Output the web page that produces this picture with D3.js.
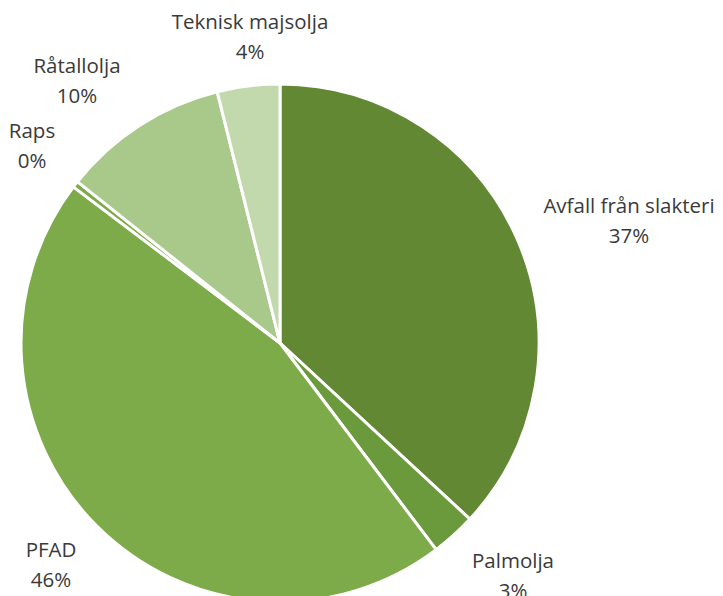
<!DOCTYPE html>
<html>
<head>
<meta charset="utf-8">
<script src="https://cdn.jsdelivr.net/npm/d3@7"></script>
<style>
  html, body { margin: 0; padding: 0; background: #fff; }
  svg { display: block; }
  text { font-family: "Open Sans", Lato, sans-serif; fill: #3a3a3a; }
</style>
</head>
<body>
<svg id="chart" width="723" height="596"></svg>
<script>
// Data
const categories = ["Avfall från slakteri", "Palmolja", "PFAD", "Raps", "Råtallolja", "Teknisk majsolja"];
const values = [36.9, 2.8, 45.6, 0.4, 10.4, 3.9];
const percentLabels = ["37%", "3%", "46%", "0%", "10%", "4%"];

// Styling / layout (not data)
const colors = ["#628833", "#6a9a3c", "#7eab4a", "#7eab4a", "#a8c98a", "#c2d9ad"];
const labelPos = [
  [629, 213], [513, 568], [51, 557], [32, 138], [77, 73], [250, 29]
];
const lineGap = 30;

const svg = d3.select("#chart");
const cx = 280, cy = 343, r = 259;

const pie = d3.pie().sort(null).value(d => d.v).startAngle(0).endAngle(2 * Math.PI);
const arc = d3.arc().innerRadius(0).outerRadius(r);
const data = categories.map((c, i) => ({ c, v: values[i], i }));

const g = svg.append("g").attr("transform", `translate(${cx},${cy})`);
g.selectAll("path")
  .data(pie(data))
  .join("path")
  .attr("d", arc)
  .attr("fill", d => colors[d.data.i])
  .attr("stroke", "#fff")
  .attr("stroke-width", 3)
  .attr("stroke-linejoin", "round");

const labels = svg.append("g");
data.forEach((d, i) => {
  const t = labels.append("text")
    .attr("text-anchor", "middle")
    .attr("font-size", 20.5);
  t.append("tspan").attr("x", labelPos[i][0]).attr("y", labelPos[i][1]).text(d.c);
  t.append("tspan").attr("x", labelPos[i][0]).attr("y", labelPos[i][1] + lineGap).text(percentLabels[i]);
});
</script>
</body>
</html>
